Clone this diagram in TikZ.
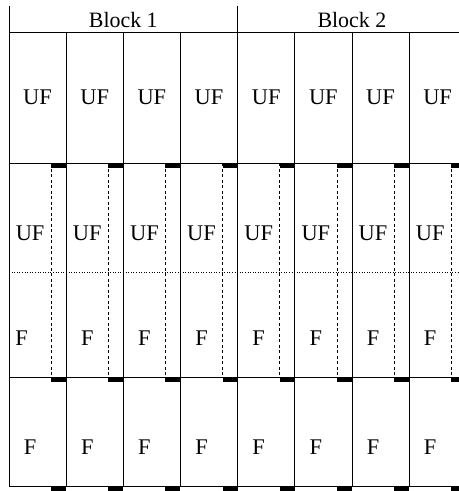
\documentclass[tikz,border=0pt]{standalone}
\usepackage{fontspec}
\setmainfont{Liberation Serif}
\begin{document}
\begin{tikzpicture}[x=1bp, y=-1bp, line width=0.8bp,
    lbl/.style={inner sep=0pt, font=\fontsize{22.5}{26}\selectfont},
    blk/.style={inner sep=0pt, font=\fontsize{22}{26}\selectfont}]
        \def\cw{57.15}
        \def\lx{9}
        \def\gap{15}
        \def\bh{4.4}
        \def\ytop{32.3}
        \def\ya{163.3}
        \def\yb{272.7}
        \def\yc{377.3}
        \def\yd{486.7}

        \useasboundingbox (0,0) rectangle (459,491);
        \clip (0,0) rectangle (459,491);

        % Header: Block 1 | Block 2
        \draw (\lx,6) -- (\lx,\yd);
        \draw (\lx+4*\cw,6) -- (\lx+4*\cw,\yd);
        \draw (\lx,\ytop) -- (\lx+8*\cw,\ytop);
        \node[blk] (blk1) at (\lx+2*\cw,20.3) {Block 1};
        \node[blk] (blk2) at (\lx+6*\cw,20.3) {Block 2};

        % Row borders (dotted one between UF and F)
        \draw (\lx,\ya) -- (\lx+8*\cw,\ya);
        \draw[dotted, line width=0.6bp] (\lx,\yb) -- (\lx+8*\cw,\yb);
        \draw (\lx,\yc) -- (\lx+8*\cw,\yc);
        \draw (\lx,\yd) -- (\lx+8*\cw,\yd);

        \foreach \i in {1,...,8} {
            % column border, dashed split and black markers
            \draw (\lx+\i*\cw,\ytop) -- (\lx+\i*\cw,\yd);
            \draw[dash pattern=on 3bp off 2.5bp] (\lx+\i*\cw-\gap,\ya) -- (\lx+\i*\cw-\gap,\yc);
            \foreach \y in {\ya,\yc,\yd}
                \fill (\lx+\i*\cw-\gap,\y) rectangle (\lx+\i*\cw,\y+\bh);

            % labels
            \pgfmathsetmacro\fx{\i==1 ? \lx+12.7 : \lx+(\i-1)*\cw+21.1}
            \node[lbl] (uf-a-\i) at (\lx+\i*\cw-0.5*\cw,97) {UF};
            \node[lbl] (uf-b-\i) at (\lx+\i*\cw-\cw+21.1,233) {UF};
            \node[lbl] (f-c-\i) at (\fx,338.5) {F};
            \node[lbl] (f-d-\i) at (\lx+\i*\cw-\cw+21.1,447) {F};
        }
    \end{tikzpicture}
\end{document}
